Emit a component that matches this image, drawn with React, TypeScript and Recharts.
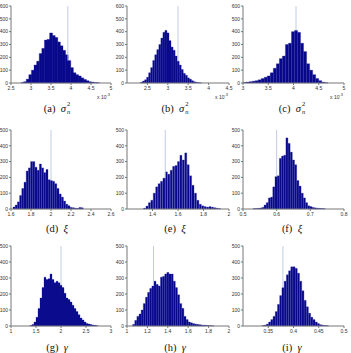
import React from "react";
import { BarChart, Bar, XAxis, YAxis, ReferenceLine } from "recharts";

// histogram counts (bin start / width per panel)
const countsA = [3, 10, 30, 65, 100, 140, 170, 230, 270, 335, 340, 390, 370, 355, 320, 290, 255, 220, 175, 120, 80, 65, 55, 40, 28, 18, 10, 6, 3, 2];
const countsB = [5, 15, 25, 45, 80, 120, 175, 220, 260, 300, 350, 395, 410, 390, 330, 280, 255, 210, 170, 140, 105, 75, 60, 40, 30, 18, 10, 5, 3, 1];
const countsC = [4, 7, 10, 14, 18, 25, 35, 45, 55, 80, 115, 150, 190, 210, 300, 310, 400, 410, 395, 310, 245, 150, 100, 65, 35, 18, 6, 2];
const countsD = [12, 25, 45, 85, 130, 170, 240, 260, 300, 300, 265, 245, 285, 260, 230, 250, 185, 180, 175, 160, 130, 95, 75, 50, 30, 20, 10, 8, 5, 4, 10, 8];
const countsE = [5, 18, 40, 55, 100, 140, 160, 175, 195, 235, 220, 245, 270, 275, 300, 340, 310, 355, 280, 210, 150, 100, 55, 30, 20, 15, 12, 15, 12, 8, 5, 2];
const countsF = [2, 3, 4, 6, 10, 25, 40, 70, 75, 140, 205, 210, 320, 335, 340, 450, 415, 360, 310, 280, 180, 145, 100, 70, 40, 20, 15, 10, 7, 5, 4, 3, 2];
const countsG = [3, 10, 25, 55, 110, 175, 240, 305, 290, 295, 325, 290, 270, 280, 270, 255, 240, 205, 175, 165, 150, 130, 110, 90, 70, 50, 38, 25, 15, 12, 9, 6, 4, 2];
const countsH = [10, 35, 60, 75, 100, 140, 180, 210, 235, 250, 280, 260, 250, 305, 310, 325, 335, 325, 325, 280, 240, 195, 140, 110, 60, 40, 25, 20, 15, 12, 10, 8, 6, 5, 4, 3, 2, 1];
const countsI = [2, 5, 12, 25, 40, 60, 90, 135, 190, 240, 280, 320, 345, 370, 370, 360, 330, 280, 220, 160, 120, 80, 55, 40, 25, 15, 8, 5, 3, 2];

const ticksA = [2.5, 3, 3.5, 4, 4.5, 5];
const ticksB = [2.5, 3, 3.5, 4, 4.5];
const ticksC = [3, 3.5, 4, 4.5, 5];
const ticksD = [1.6, 1.8, 2, 2.2, 2.4, 2.6];
const ticksE = [1.4, 1.6, 1.8, 2];
const ticksF = [0.5, 0.6, 0.7, 0.8];
const ticksG = [1, 1.5, 2, 2.5, 3];
const ticksH = [1, 1.2, 1.4, 1.6, 1.8, 2];
const ticksI = [0.35, 0.4, 0.45, 0.5];

const yTicks600 = [0, 100, 200, 300, 400, 500, 600];
const yTicks500 = [0, 100, 200, 300, 400, 500];

const bins = (counts: number[], start: number, width: number) =>
  counts.map((c, i) => ({ x: start + (i + 0.5) * width, count: c, lo: start + i * width, hi: start + (i + 1) * width }));

const BAR = "#08088a";
const FONT = "'Liberation Sans', Arial, sans-serif";

type Bin = { x: number; count: number; lo: number; hi: number };

type PanelProps = {
  data: Bin[];
  domain: [number, number];
  ticks: number[];
  yTicks: number[];
  refX: number;
  left: number;
  top: number;
  w: number;
  h: number;
  exp?: boolean;
};

const Panel = ({ data, domain, ticks, yTicks, refX, left, top, w, h, exp }: PanelProps) => {
  const yw = 22;
  const mt = 3;
  const mr = 4;
  const xh = 12;
  const yMax = yTicks[yTicks.length - 1];
  const tick = { fontSize: 5, fill: "#333", fontFamily: FONT };
  // the marker line sits behind the bars: start it at the top of the bin it crosses
  const hit = data.find((b) => refX >= b.lo && refX < b.hi);
  const base = hit ? hit.count : 0;
  return (
    <div style={{ position: "absolute", left: left - yw, top: top - mt }}>
      <BarChart
        width={yw + w + mr}
        height={mt + h + xh}
        data={data}
        margin={{ top: mt, right: mr, bottom: 0, left: 0 }}
        barCategoryGap={0}
        barGap={0}
      >
        <XAxis
          dataKey="x"
          type="number"
          domain={domain}
          ticks={ticks}
          interval={0}
          allowDataOverflow
          height={xh}
          tick={tick}
          tickSize={2}
          tickMargin={1}
          stroke="#777"
        />
        <XAxis xAxisId="top" orientation="top" type="number" domain={domain} height={0} tick={false} stroke="#777" />
        <YAxis
          type="number"
          domain={[0, yMax]}
          ticks={yTicks}
          interval={0}
          width={yw}
          tick={tick}
          tickSize={2}
          tickMargin={1}
          stroke="#777"
        />
        <YAxis yAxisId="right" orientation="right" width={0} tick={false} stroke="#777" />
        <ReferenceLine
          segment={[{ x: refX, y: base }, { x: refX, y: yMax }]}
          stroke="#b0bedd"
          strokeWidth={0.8}
        />
        <Bar dataKey="count" fill={BAR} stroke="#1c1c9c" strokeWidth={0.3} isAnimationActive={false} />
      </BarChart>
      {exp && (
        <div
          style={{
            position: "absolute",
            left: yw + w - 14,
            top: mt + h + 9,
            fontSize: 5,
            fontFamily: FONT,
            color: "#333",
            whiteSpace: "nowrap",
          }}
        >
          x 10<sup style={{ fontSize: 4 }}>-3</sup>
        </div>
      )}
    </div>
  );
};

const Caption = ({ x, y, label, sym, stack }: { x: number; y: number; label: string; sym: string; stack?: boolean }) => (
  <div
    style={{
      position: "absolute",
      left: x - 40,
      top: y - 9,
      width: 80,
      height: 18,
      display: "flex",
      alignItems: "center",
      justifyContent: "center",
      fontFamily: "'Liberation Serif', 'DejaVu Serif', serif",
      fontSize: 10.5,
      color: "#111",
      whiteSpace: "nowrap",
    }}
  >
    <span>{label}&nbsp;&nbsp;<i>{sym}</i></span>
    {stack && (
      <span
        style={{
          display: "inline-flex",
          flexDirection: "column",
          fontSize: 6.5,
          lineHeight: "8px",
          marginLeft: 1,
        }}
      >
        <span>2</span>
        <i>n</i>
      </span>
    )}
  </div>
);

export default function App() {
  const cols = [
    { l: 11, w: 100 },
    { l: 127, w: 102 },
    { l: 243, w: 101 },
  ];
  const rows = [
    { t: 6, h: 77, cap: 108 },
    { t: 130, h: 79, cap: 228 },
    { t: 246, h: 80, cap: 347 },
  ];
  return (
    <div style={{ position: "absolute", left: 0, top: 0, width: 351, height: 353, background: "#fff", overflow: "hidden" }}>
      <Panel data={bins(countsA, 2.75, 0.065)} domain={[2.5, 5]} ticks={ticksA} yTicks={yTicks600} refX={3.92}
        left={cols[0].l} top={rows[0].t} w={cols[0].w} h={rows[0].h} exp />
      <Panel data={bins(countsB, 2.33, 0.05)} domain={[2, 4.5]} ticks={ticksB} yTicks={yTicks600} refX={3.25}
        left={cols[1].l} top={rows[0].t} w={cols[1].w} h={rows[0].h} exp />
      <Panel data={bins(countsC, 3.0, 0.06)} domain={[3, 5]} ticks={ticksC} yTicks={yTicks600} refX={4.05}
        left={cols[2].l} top={rows[0].t} w={cols[2].w} h={rows[0].h} exp />

      <Panel data={bins(countsD, 1.62, 0.022)} domain={[1.6, 2.6]} ticks={ticksD} yTicks={yTicks500} refX={2.0}
        left={cols[0].l} top={rows[1].t} w={cols[0].w} h={rows[1].h} />
      <Panel data={bins(countsE, 1.33, 0.019)} domain={[1.2, 2]} ticks={ticksE} yTicks={yTicks500} refX={1.5}
        left={cols[1].l} top={rows[1].t} w={cols[1].w} h={rows[1].h} />
      <Panel data={bins(countsF, 0.53, 0.0065)} domain={[0.5, 0.8]} ticks={ticksF} yTicks={yTicks500} refX={0.6}
        left={cols[2].l} top={rows[1].t} w={cols[2].w} h={rows[1].h} />

      <Panel data={bins(countsG, 1.38, 0.04)} domain={[1, 3]} ticks={ticksG} yTicks={yTicks500} refX={2.0}
        left={cols[0].l} top={rows[2].t} w={cols[0].w} h={rows[2].h} />
      <Panel data={bins(countsH, 1.055, 0.021)} domain={[1, 2]} ticks={ticksH} yTicks={yTicks500} refX={1.26}
        left={cols[1].l} top={rows[2].t} w={cols[1].w} h={rows[2].h} />
      <Panel data={bins(countsI, 0.3375, 0.0044)} domain={[0.3, 0.5]} ticks={ticksI} yTicks={yTicks500} refX={0.379}
        left={cols[2].l} top={rows[2].t} w={cols[2].w} h={rows[2].h} />

      <Caption x={57} y={rows[0].cap} label="(a)" sym="σ" stack />
      <Caption x={175} y={rows[0].cap} label="(b)" sym="σ" stack />
      <Caption x={292} y={rows[0].cap} label="(c)" sym="σ" stack />
      <Caption x={57} y={rows[1].cap} label="(d)" sym="ξ" />
      <Caption x={175} y={rows[1].cap} label="(e)" sym="ξ" />
      <Caption x={292} y={rows[1].cap} label="(f)" sym="ξ" />
      <Caption x={57} y={rows[2].cap} label="(g)" sym="γ" />
      <Caption x={175} y={rows[2].cap} label="(h)" sym="γ" />
      <Caption x={292} y={rows[2].cap} label="(i)" sym="γ" />
    </div>
  );
}
